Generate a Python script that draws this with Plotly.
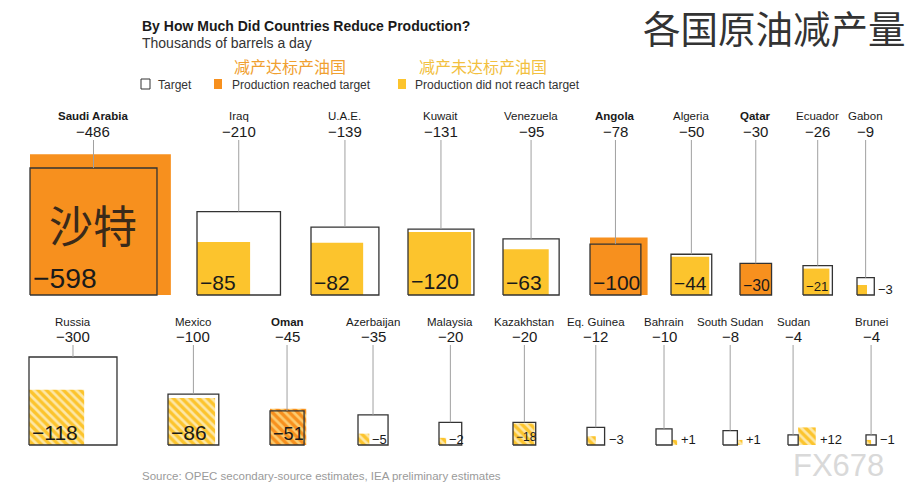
import math
import plotly.graph_objects as go

# ---------------- data ----------------
top_countries = ["Saudi Arabia", "Iraq", "U.A.E.", "Kuwait", "Venezuela",
                 "Angola", "Algeria", "Qatar", "Ecuador", "Gabon"]
top_target = [-486, -210, -139, -131, -95, -78, -50, -30, -26, -9]
top_actual = [-598, -85, -82, -120, -63, -100, -44, -30, -21, -3]

bottom_countries = ["Russia", "Mexico", "Oman", "Azerbaijan", "Malaysia",
                    "Kazakhstan", "Eq. Guinea", "Bahrain", "South Sudan",
                    "Sudan", "Brunei"]
bottom_target = [-300, -100, -45, -35, -20, -20, -12, -10, -8, -4, -4]
bottom_actual = [-118, -86, -51, -5, -2, -18, -3, 1, 1, 12, -1]

bold_countries = ["Saudi Arabia", "Angola", "Qatar", "Oman"]

title = "By How Much Did Countries Reduce Production?"
subtitle = "Thousands of barrels a day"
cn_title = "各国原油减产量"
cn_reached = "减产达标产油国"
cn_not = "减产未达标产油国"
legend_labels = ["Target", "Production reached target", "Production did not reach target"]
source = "Source: OPEC secondary-source estimates, IEA preliminary estimates"

# ---------------- layout constants ----------------
top_left = [30, 197, 311, 408, 503, 590, 671, 740, 803, 857]
bottom_left = [29, 168, 270, 358, 439, 513, 587, 656, 723, 788, 866]

ORANGE = "#F7901E"
YELLOW = "#FCC42D"
FONT = "Liberation Sans, Arial, sans-serif"
CJK = "Noto Sans CJK SC"

rows = [
    dict(countries=top_countries, target=top_target, actual=top_actual,
         left=top_left, base=295, scale=5.76, name_y=116, value_y=131,
         line_top=140, hatch=False),
    dict(countries=bottom_countries, target=bottom_target, actual=bottom_actual,
         left=bottom_left, base=445, scale=5.08, name_y=322, value_y=336,
         line_top=345, hatch=True),
]


def fmt(v):
    return ("+" if v > 0 else "\u2212") + str(abs(v))


def sq(x0, base, side):
    return ([x0, x0 + side, x0 + side, x0, x0],
            [base, base, base - side, base - side, base])


fig = go.Figure()
ann = []

for row in rows:
    base = row["base"]
    s = row["scale"]
    for name, tv, av, x0 in zip(row["countries"], row["target"], row["actual"], row["left"]):
        ts = math.sqrt(abs(tv)) * s
        a_s = math.sqrt(abs(av)) * s
        reached = av <= tv
        color = ORANGE if reached else YELLOW
        ax0 = x0 if av < 0 else x0 + ts

        # white target background
        xs, ys = sq(x0, base, ts)
        fig.add_trace(go.Scatter(x=xs, y=ys, mode="lines", fill="toself",
                                 fillcolor="white", line=dict(width=0),
                                 hoverinfo="skip", showlegend=False))
        # actual production square
        xs, ys = sq(ax0, base, a_s)
        kw = dict(fillcolor=color)
        if row["hatch"]:
            fg = "#FCCB6E" if reached else "#FDE7A6"
            kw["fillpattern"] = dict(shape="\\", bgcolor=color, fgcolor=fg,
                                     size=6, solidity=0.45, fillmode="replace")
        fig.add_trace(go.Scatter(x=xs, y=ys, mode="lines", fill="toself",
                                 line=dict(width=0), hoverinfo="skip",
                                 showlegend=False, **kw))
        # target outline
        xs, ys = sq(x0, base, ts)
        fig.add_trace(go.Scatter(x=xs, y=ys, mode="lines",
                                 line=dict(color="#333333", width=1.3),
                                 hoverinfo="skip", showlegend=False))
        # leader line
        cx = x0 + ts / 2
        fig.add_trace(go.Scatter(x=[cx, cx], y=[row["line_top"], base - ts],
                                 mode="lines", line=dict(color="#A0A0A0", width=1),
                                 hoverinfo="skip", showlegend=False))
        # labels above
        nm = "<b>%s</b>" % name if name in bold_countries else name
        ann.append(dict(x=cx, y=row["name_y"], text=nm, showarrow=False,
                        xanchor="center", yanchor="middle",
                        font=dict(family=FONT, size=11.5, color="#1a1a1a")))
        ann.append(dict(x=cx, y=row["value_y"], text=fmt(tv), showarrow=False,
                        xanchor="center", yanchor="middle",
                        font=dict(family=FONT, size=15, color="#1a1a1a")))
        # actual value label
        if a_s >= 20:
            fs = max(12, min(a_s * 0.5, 21 + max(0, a_s - 60) * 0.09))
            ann.append(dict(x=ax0 + 1, y=base + 1, text=fmt(av), showarrow=False,
                            xanchor="left", yanchor="bottom",
                            font=dict(family=FONT, size=fs, color="#1a1a1a")))
        else:
            if av < 0 and (ts - a_s) >= 13:
                lx = ax0 + a_s + 1
            else:
                lx = max(x0 + ts, ax0 + a_s) + 2
            ann.append(dict(x=lx, y=base - 6, text=fmt(av), showarrow=False,
                            xanchor="left", yanchor="middle",
                            font=dict(family=FONT, size=13, color="#1a1a1a")))

# Saudi Chinese label
ann.append(dict(x=93, y=224, text="沙特", showarrow=False, xanchor="center",
                yanchor="middle", font=dict(family=CJK, size=44, color="#3a2a1a")))

# titles
ann += [
    dict(x=140, y=26, text="<b>%s</b>" % title, showarrow=False, xanchor="left",
         yanchor="middle", font=dict(family=FONT, size=14, color="#1a1a1a")),
    dict(x=140, y=43, text=subtitle, showarrow=False, xanchor="left",
         yanchor="middle", font=dict(family=FONT, size=14, color="#333333")),
    dict(x=641, y=26.5, text=cn_title, showarrow=False, xanchor="left",
         yanchor="middle", font=dict(family=CJK, size=37.5, color="#333333")),
    dict(x=232, y=66, text=cn_reached, showarrow=False, xanchor="left",
         yanchor="middle", font=dict(family=CJK, size=16, color="#F0A030")),
    dict(x=417, y=66, text=cn_not, showarrow=False, xanchor="left",
         yanchor="middle", font=dict(family=CJK, size=16, color="#F2C040")),
    dict(x=156, y=84.5, text=legend_labels[0], showarrow=False, xanchor="left",
         yanchor="middle", font=dict(family=FONT, size=12, color="#333333")),
    dict(x=230, y=84.5, text=legend_labels[1], showarrow=False, xanchor="left",
         yanchor="middle", font=dict(family=FONT, size=12, color="#333333")),
    dict(x=413, y=84.5, text=legend_labels[2], showarrow=False, xanchor="left",
         yanchor="middle", font=dict(family=FONT, size=12, color="#333333")),
    dict(x=140, y=476, text=source, showarrow=False, xanchor="left",
         yanchor="middle", font=dict(family=FONT, size=11.5, color="#9a9a9a")),
    dict(x=838, y=465, text="FX678", showarrow=False, xanchor="center",
         yanchor="middle", font=dict(family=FONT, size=31, color="#D9D9D9")),
]

shapes = [
    dict(type="rect", xref="x", yref="y", x0=141, x1=150, y0=79, y1=89,
         line=dict(color="#333333", width=1), fillcolor="white"),
    dict(type="rect", xref="x", yref="y", x0=214, x1=222, y0=79, y1=89,
         line=dict(width=0), fillcolor=ORANGE),
    dict(type="rect", xref="x", yref="y", x0=398, x1=406, y0=79, y1=89,
         line=dict(width=0), fillcolor=YELLOW),
]

fig.update_layout(
    width=918, height=501,
    margin=dict(l=0, r=0, t=0, b=0),
    paper_bgcolor="white", plot_bgcolor="white",
    xaxis=dict(range=[0, 918], visible=False, fixedrange=True),
    yaxis=dict(range=[501, 0], visible=False, fixedrange=True),
    annotations=ann, shapes=shapes, showlegend=False,
)

fig.write_html("out.html", config={"displayModeBar": False},
               post_script="document.body.style.margin='0';document.body.style.overflow='hidden';")
